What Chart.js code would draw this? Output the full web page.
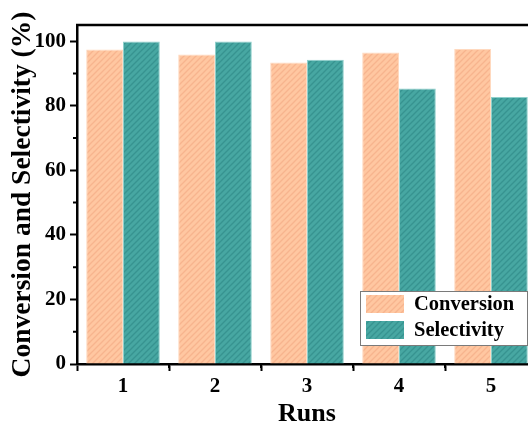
<!DOCTYPE html>
<html>
<head>
<meta charset="utf-8">
<script src="https://cdn.jsdelivr.net/npm/chart.js@4.4.1/dist/chart.umd.min.js"></script>
<style>
html,body{margin:0;padding:0;background:#fff;overflow:hidden;}
#wrap{position:relative;width:537px;height:425px;}
</style>
</head>
<body>
<div id="wrap"><canvas id="c" width="537" height="425"></canvas></div>
<script>
const runs = ['1', '2', '3', '4', '5'];
const conversion = [97.4, 95.9, 93.4, 96.5, 97.6];
const selectivity = [99.9, 99.9, 94.2, 85.3, 82.7];
const seriesNames = ['Conversion', 'Selectivity'];
const yTickValues = [0, 20, 40, 60, 80, 100];
const yMinorValues = [10, 30, 50, 70, 90];

const FONT = "'Liberation Serif','Times New Roman',serif";

function hatch(bg, line) {
  const s = 6;
  const c = document.createElement('canvas');
  c.width = s; c.height = s;
  const x = c.getContext('2d');
  x.fillStyle = bg; x.fillRect(0, 0, s, s);
  x.strokeStyle = line; x.lineWidth = 1.3;
  x.beginPath();
  x.moveTo(0, s); x.lineTo(s, 0);
  x.moveTo(-2, 2); x.lineTo(2, -2);
  x.moveTo(s - 2, s + 2); x.lineTo(s + 2, s - 2);
  x.stroke();
  return x.createPattern(c, 'repeat');
}
const orangeFill = hatch('#FFC7A1', '#F7B48E');
const tealFill = hatch('#47A7A2', '#379390');

const extras = {
  id: 'extras',
  afterDraw(chart) {
    const ctx = chart.ctx;
    const a = chart.chartArea;
    const ys = chart.scales.y, xs = chart.scales.x;
    ctx.save();
    ctx.strokeStyle = '#000';
    // top border
    ctx.lineWidth = 2.5;
    ctx.beginPath();
    ctx.moveTo(a.left - 1, a.top);
    ctx.lineTo(chart.width, a.top);
    ctx.stroke();
    // minor y ticks
    ctx.lineWidth = 2;
    ctx.beginPath();
    yMinorValues.forEach(v => {
      const y = ys.getPixelForValue(v);
      ctx.moveTo(a.left - 4, y); ctx.lineTo(a.left, y);
    });
    // minor x ticks
    for (let i = 0; i < runs.length - 1; i++) {
      const x = (xs.getPixelForValue(i) + xs.getPixelForValue(i + 1)) / 2;
      ctx.moveTo(x, a.bottom); ctx.lineTo(x, a.bottom + 4);
    }
    ctx.stroke();
    // legend
    const lx = 360, ly = 291, lw = 167, lh = 54;
    ctx.fillStyle = '#fff';
    ctx.fillRect(lx, ly, lw, lh);
    ctx.strokeStyle = '#7a7a7a';
    ctx.lineWidth = 1;
    ctx.strokeRect(lx + 0.5, ly + 0.5, lw, lh);
    const fills = [orangeFill, tealFill];
    ctx.font = "bold 20.5px " + FONT;
    ctx.textBaseline = 'middle';
    chart.data.datasets.forEach((ds, i) => {
      const sy = ly + 4 + i * 26;
      ctx.fillStyle = fills[i];
      ctx.fillRect(lx + 6, sy, 38, 18);
      ctx.fillStyle = '#000';
      ctx.fillText(ds.label, lx + 54, sy + 10);
    });
    ctx.restore();
  }
};

new Chart(document.getElementById('c'), {
  type: 'bar',
  data: {
    labels: runs,
    datasets: [
      { label: seriesNames[0], data: conversion, backgroundColor: orangeFill, borderColor: '#FFD9BF', borderWidth: 1, categoryPercentage: 0.8, barPercentage: 1 },
      { label: seriesNames[1], data: selectivity, backgroundColor: tealFill, borderColor: '#8FD0CC', borderWidth: 1, categoryPercentage: 0.8, barPercentage: 1 }
    ]
  },
  options: {
    responsive: false,
    animation: false,
    layout: { padding: { top: 25, left: 0, right: 0, bottom: 0 } },
    plugins: { legend: { display: false }, tooltip: { enabled: false } },
    scales: {
      x: {
        grid: { display: true, drawOnChartArea: false, tickLength: 7, tickWidth: 2, tickColor: '#000' },
        border: { display: true, color: '#000', width: 2.5 },
        ticks: { color: '#000', font: { family: FONT, size: 21, weight: 'bold', lineHeight: 1 }, padding: 5 },
        title: { display: true, text: 'Runs', color: '#000', font: { family: FONT, size: 26, weight: 'bold', lineHeight: 1 }, padding: { top: 0, bottom: -2 } },
        afterFit(s) { s.height = 61; }
      },
      y: {
        min: 0, max: 105,
        afterBuildTicks(s) { s.ticks = yTickValues.map(v => ({ value: v })); },
        grid: { display: true, drawOnChartArea: false, tickLength: 7, tickWidth: 2, tickColor: '#000' },
        border: { display: true, color: '#000', width: 2.5 },
        ticks: { color: '#000', font: { family: FONT, size: 21, weight: 'bold' }, padding: 4 },
        title: { display: true, text: 'Conversion and Selectivity (%)', color: '#000', font: { family: FONT, size: 27.5, weight: 'bold', lineHeight: 1 }, padding: { top: 9, bottom: 0 } },
        afterFit(s) { s.width = 77; }
      }
    }
  },
  plugins: [extras]
});
</script>
</body>
</html>
